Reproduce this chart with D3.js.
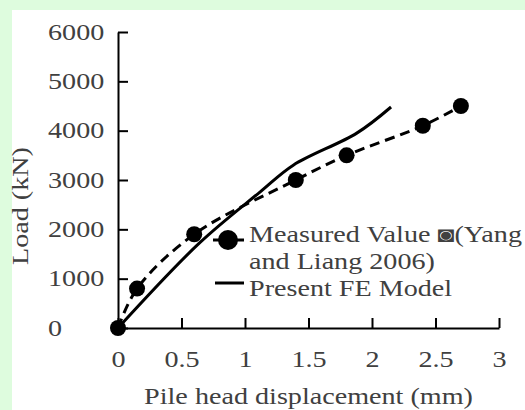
<!DOCTYPE html>
<html>
<head>
<meta charset="utf-8">
<script src="https://cdn.jsdelivr.net/npm/d3@7"></script>
<style>
  html, body { margin: 0; padding: 0; background: #defcde; }
  svg { display: block; }
  text { font-family: "Liberation Serif", "Times New Roman", serif; fill: #404040; }
</style>
</head>
<body>
<svg id="chart" width="525" height="410"></svg>
<script>
// Measured pile-head load test (Yang and Liang 2006)
const measuredDisp = [0, 0.15, 0.6, 1.4, 1.8, 2.4, 2.7];
const measuredLoad = [0, 800, 1900, 3000, 3500, 4100, 4500];

// Finite element prediction
const feDisp = [0, 0.64, 1.12, 1.38, 1.88, 2.15];
const feLoad = [0, 1720, 2760, 3300, 3950, 4480];

// Axis ticks
const xTicks = [0, 0.5, 1, 1.5, 2, 2.5, 3];
const xTickLabels = ["0", "0.5", "1", "1.5", "2", "2.5", "3"];
const yTicks = [0, 1000, 2000, 3000, 4000, 5000, 6000];
const yTickLabels = ["0", "1000", "2000", "3000", "4000", "5000", "6000"];

const xTitle = "Pile head displacement (mm)";
const yTitle = "Load (kN)";
const legendMeasured = ["Measured Value \u25D9(Yang", "and Liang 2006)"];
const legendFE = "Present FE Model";

const FONT = 22.5;
const STRETCH = 1.25;   // wide Mincho-like lettering

const svg = d3.select("#chart");

// white chart area
svg.append("rect").attr("x", 12).attr("y", 10)
  .attr("width", 525 - 12).attr("height", 410 - 10).attr("fill", "#ffffff");

const x = d3.scaleLinear().domain([0, 3]).range([118, 499]);
const y = d3.scaleLinear().domain([0, 6000]).range([328, 32]);

// widen lettering horizontally
function widen(sel) {
  sel.each(function () {
    const w = this.getComputedTextLength();
    this.setAttribute("textLength", w * STRETCH);
    this.setAttribute("lengthAdjust", "spacingAndGlyphs");
  });
}

// y axis
const yAxis = svg.append("g").attr("transform", `translate(${x(0)},0)`)
  .call(d3.axisLeft(y).tickValues(yTicks)
    .tickFormat((d, i) => yTickLabels[i]).tickSize(-10).tickSizeOuter(0));
// x axis
const xAxis = svg.append("g").attr("transform", `translate(0,${y(0)})`)
  .call(d3.axisBottom(x).tickValues(xTicks)
    .tickFormat((d, i) => xTickLabels[i]).tickSize(-10).tickSizeOuter(0));

[xAxis, yAxis].forEach(g => {
  g.select(".domain").attr("stroke", "#000").attr("stroke-width", 2);
  g.selectAll(".tick line").attr("stroke", "#000").attr("stroke-width", 2);
  g.selectAll(".tick text").attr("font-size", FONT)
    .attr("font-family", "Liberation Serif").attr("fill", "#404040");
});
yAxis.selectAll(".tick text").attr("text-anchor", "start").attr("x", 48 - x(0));
xAxis.selectAll(".tick text").attr("y", 39).attr("dy", null);
widen(yAxis.selectAll(".tick text"));
widen(xAxis.selectAll(".tick text"));

// axis titles
svg.append("text").attr("x", (x(0) + x(3)) / 2).attr("y", 404)
  .attr("text-anchor", "middle").attr("font-size", FONT).text(xTitle).call(widen);
svg.append("text").attr("transform", "translate(28,206) rotate(-90)")
  .attr("text-anchor", "middle").attr("font-size", FONT).text(yTitle).call(widen);

// series
const measured = measuredDisp.map((d, i) => [d, measuredLoad[i]]);
const fe = feDisp.map((d, i) => [d, feLoad[i]]);
const line = d3.line().x(d => x(d[0])).y(d => y(d[1])).curve(d3.curveCatmullRom.alpha(0.5));

svg.append("path").datum(fe).attr("d", line)
  .attr("fill", "none").attr("stroke", "#000").attr("stroke-width", 3);
svg.append("path").datum(measured).attr("d", line)
  .attr("fill", "none").attr("stroke", "#000").attr("stroke-width", 3)
  .attr("stroke-dasharray", "10,6");
svg.append("g").selectAll("circle").data(measured).join("circle")
  .attr("cx", d => x(d[0])).attr("cy", d => y(d[1])).attr("r", 8).attr("fill", "#000");

// legend
const lg = svg.append("g");
lg.append("line").attr("x1", 213).attr("x2", 244).attr("y1", 240).attr("y2", 240)
  .attr("stroke", "#000").attr("stroke-width", 3);
lg.append("circle").attr("cx", 228).attr("cy", 240).attr("r", 10).attr("fill", "#000");
lg.append("line").attr("x1", 215).attr("x2", 244).attr("y1", 283).attr("y2", 283)
  .attr("stroke", "#000").attr("stroke-width", 3);
legendMeasured.forEach((t, i) => {
  lg.append("text").attr("x", 249).attr("y", 242 + i * 27).attr("font-size", FONT)
    .text(t).call(widen);
});
lg.append("text").attr("x", 249).attr("y", 296).attr("font-size", FONT).text(legendFE).call(widen);
</script>
</body>
</html>
